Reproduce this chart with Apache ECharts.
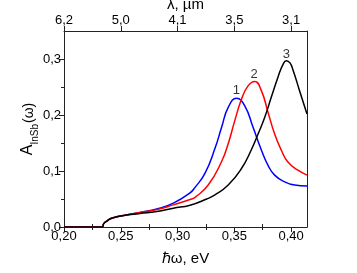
<!DOCTYPE html>
<html><head><meta charset="utf-8">
<script src="https://cdn.jsdelivr.net/npm/echarts@6/dist/echarts.min.js"></script>
<style>html,body{margin:0;padding:0;background:#fff}#c{width:357px;height:273px}</style>
</head><body><div id="c"></div>
<script>
var energy1 = [0.20,0.2335,0.235,0.238,0.2408,0.245,0.2525,0.267,0.2817,0.2963,0.311,0.3154,0.3241,0.3329,0.3388,0.3446,0.3519,0.3592,0.3665,0.3739,0.3797,0.3855,0.3943,0.4031,0.414];
var absorb1 = [0,0,0.006,0.011,0.0147,0.0175,0.0205,0.026,0.032,0.0425,0.061,0.0708,0.0956,0.140,0.178,0.2135,0.230,0.2165,0.178,0.137,0.110,0.0926,0.0807,0.0749,0.073];
var energy2 = [0.20,0.2335,0.235,0.238,0.2408,0.245,0.2525,0.267,0.2817,0.2963,0.311,0.3154,0.327,0.3388,0.3446,0.3504,0.3563,0.3621,0.368,0.3739,0.3797,0.3855,0.3914,0.3972,0.406,0.414];
var absorb2 = [0,0,0.006,0.011,0.0147,0.0175,0.0205,0.026,0.031,0.0395,0.049,0.053,0.0749,0.117,0.1487,0.19,0.228,0.252,0.260,0.243,0.2046,0.166,0.137,0.116,0.1014,0.0926];
var energy3 = [0.20,0.2335,0.235,0.238,0.2408,0.245,0.2525,0.267,0.2817,0.2963,0.311,0.3256,0.3329,0.3446,0.3563,0.365,0.3709,0.3768,0.3826,0.3885,0.3928,0.3958,0.399,0.4016,0.4075,0.414];
var absorb3 = [0,0,0.006,0.011,0.0147,0.0175,0.0205,0.024,0.0277,0.0336,0.039,0.050,0.0572,0.0749,0.1044,0.138,0.166,0.196,0.232,0.268,0.290,0.297,0.293,0.281,0.243,0.2018];
var curveNames = ['1','2','3'];
var labelX = [0.3519,0.3674,0.3958];
var labelY = [0.243,0.2726,0.308];
var bottomTicks = [0.20,0.25,0.30,0.35,0.40];
var bottomLabels = ['0,20','0,25','0,30','0,35','0,40'];
var minorX = [0.225,0.275,0.325,0.375];
var topLabels = ['6,2','5,0','4,1','3,5','3,1'];
var leftTicks = [0,0.1,0.2,0.3];
var leftLabels = ['0,0','0,1','0,2','0,3'];
var minorY = [0.05,0.15,0.25];
var colors = ['#0000ff','#ff0000','#000000'];

function pairs(xs, ys){ return xs.map(function(x,i){return [x, ys[i]];}); }
var font = 'Liberation Sans, Arial, sans-serif';
var xmin = 0.2, xmax = 0.414, ymin = 0, ymax = 0.35;
var axisCol = '#222';

var chart = echarts.init(document.getElementById('c'), null, {renderer:'canvas'});
function xAxisBase(pos, labels, name, nameGap, margin){
  return {
    type:'value', position:pos, min:xmin, max:xmax,
    axisLine:{show:true, onZero:false, lineStyle:{color:axisCol, width:1}},
    axisTick:{show:true, inside:false, length:5, customValues:bottomTicks, lineStyle:{color:axisCol}},
    axisLabel:{show:true, customValues:bottomTicks, margin:margin, fontSize:13, fontFamily:font, color:'#000',
      formatter:function(v){ var i = bottomTicks.findIndex(function(t){return Math.abs(t-v)<1e-6;}); return i>=0?labels[i]:''; }},
    splitLine:{show:false},
    name:name, nameLocation:'middle', nameGap:nameGap, nameMoveOverlap:false,
    nameTextStyle:{fontSize:15, fontFamily:font, color:'#000'}
  };
}
function minorXAxis(pos){
  return {type:'value', position:pos, min:xmin, max:xmax,
    axisLine:{show:false}, axisLabel:{show:false}, splitLine:{show:false},
    axisTick:{show:true, length:3, customValues:minorX, lineStyle:{color:axisCol}}};
}
var option = {
  animation:false,
  grid:{left:64, right:50, top:31, bottom:46, containLabel:false, outerBoundsMode:'none'},
  xAxis:[
    xAxisBase('bottom', bottomLabels, 'ℏω, eV', 24, 3),
    xAxisBase('top', topLabels, 'λ, µm', 19, 4),
    minorXAxis('bottom'),
    minorXAxis('top')
  ],
  yAxis:[
    {type:'value', position:'left', min:ymin, max:ymax,
     axisLine:{show:true, onZero:false, lineStyle:{color:axisCol}},
     axisTick:{show:true, length:5, customValues:leftTicks, lineStyle:{color:axisCol}},
     axisLabel:{show:true, customValues:leftTicks, margin:3, fontSize:13, fontFamily:font, color:'#000',
       formatter:function(v){ var i = leftTicks.findIndex(function(t){return Math.abs(t-v)<1e-6;}); return i>=0?leftLabels[i]:''; }},
     splitLine:{show:false},
     name:'{a|A}{s|InSb}{b|(ω)}', nameLocation:'middle', nameRotate:90, nameGap:28, nameMoveOverlap:false,
     nameTextStyle:{fontFamily:font, color:'#000', rich:{
       a:{fontSize:16, fontFamily:font, color:'#000', lineHeight:20, verticalAlign:'bottom'},
       s:{fontSize:10, fontFamily:font, color:'#000', lineHeight:20, verticalAlign:'bottom', padding:[0,1,-4,0]},
       b:{fontSize:14, fontFamily:font, color:'#000', lineHeight:20, verticalAlign:'bottom'}
     }}},
    {type:'value', position:'right', min:ymin, max:ymax,
     axisLine:{show:true, onZero:false, lineStyle:{color:axisCol}},
     axisTick:{show:false}, axisLabel:{show:false}, splitLine:{show:false}},
    {type:'value', position:'left', min:ymin, max:ymax,
     axisLine:{show:false}, axisLabel:{show:false}, splitLine:{show:false},
     axisTick:{show:true, length:3, customValues:minorY, lineStyle:{color:axisCol}}}
  ],
  series:[
    {type:'line', data:pairs(energy1, absorb1), showSymbol:false, smooth:true, lineStyle:{color:colors[0], width:1.5}, z:3},
    {type:'line', data:pairs(energy2, absorb2), showSymbol:false, smooth:true, lineStyle:{color:colors[1], width:1.5}, z:3},
    {type:'line', data:pairs(energy3, absorb3), showSymbol:false, smooth:true, lineStyle:{color:colors[2], width:1.5}, z:3},
    {type:'scatter', symbolSize:1, itemStyle:{color:'rgba(0,0,0,0)'},
     data:labelX.map(function(x,i){return {value:[x,labelY[i]], name:curveNames[i]};}),
     label:{show:true, position:'inside', formatter:function(p){return p.name;}, fontSize:13, fontFamily:font, color:'#000'}}
  ]
};
chart.setOption(option);
</script></body></html>
